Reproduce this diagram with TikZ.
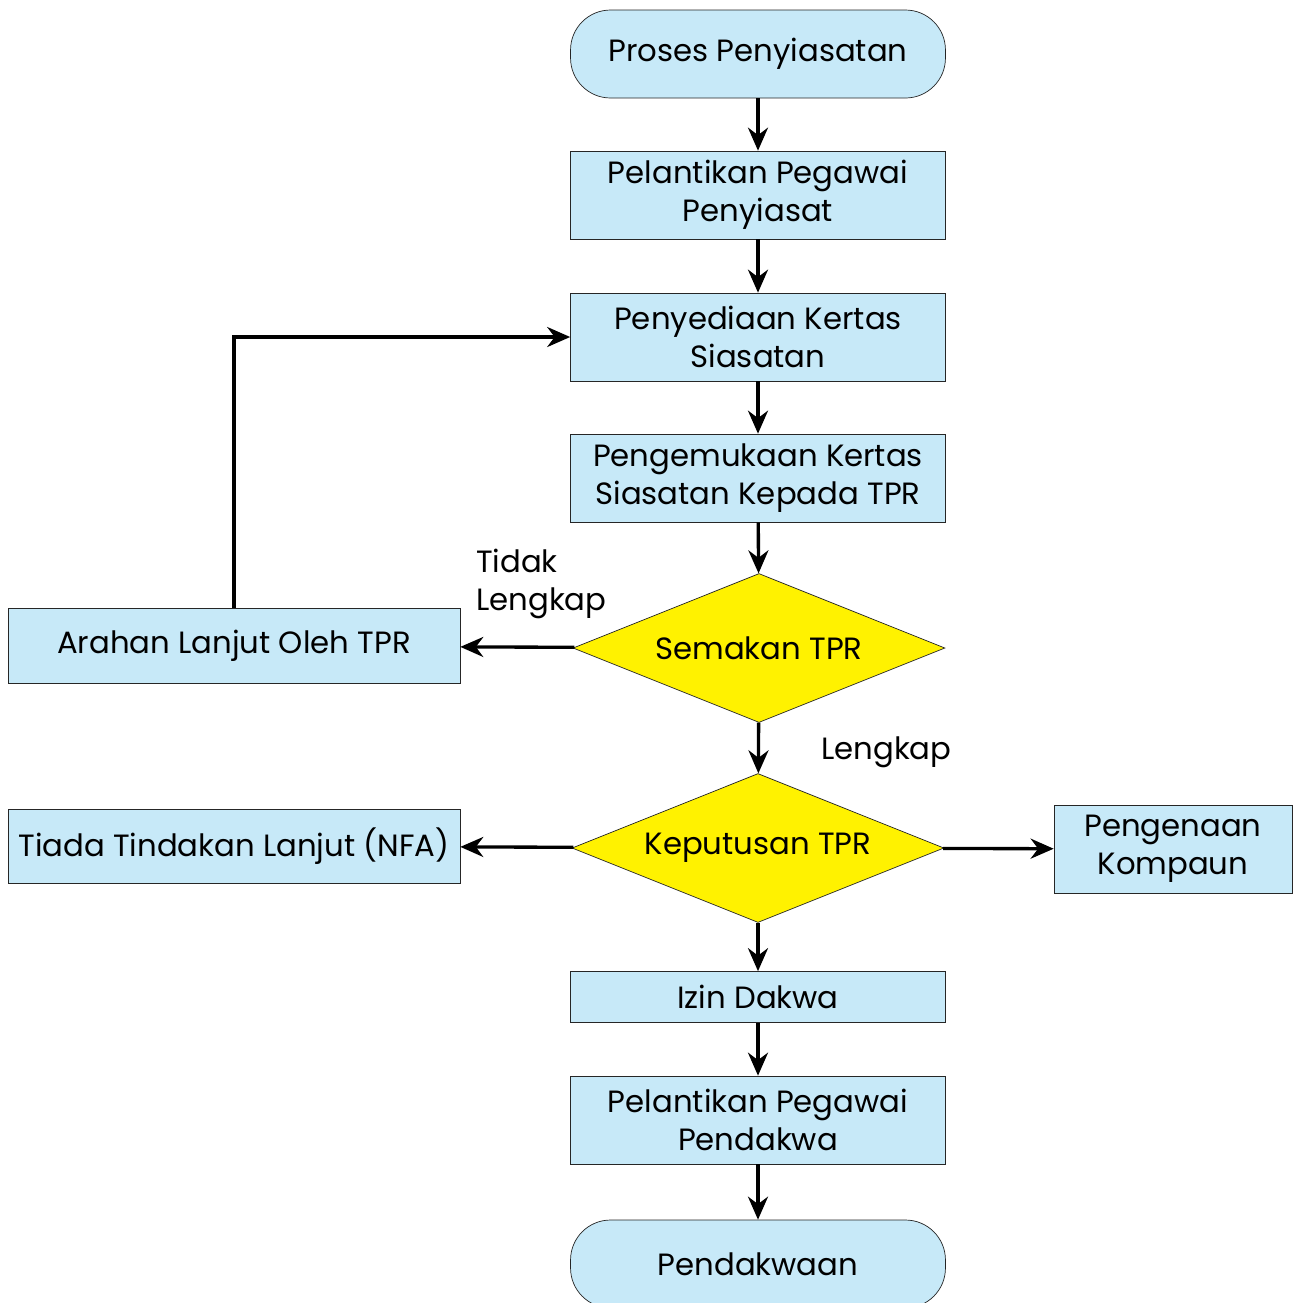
\documentclass[tikz,border=0pt]{standalone}
\usepackage{fontspec}
\setmainfont{Poppins}
\usetikzlibrary{shapes.geometric,arrows.meta,positioning}
\definecolor{boxblue}{RGB}{199,233,248}
\definecolor{decyellow}{RGB}{255,242,0}
\tikzset{
  procbox/.style={draw=black!85,thin,fill=boxblue,minimum width=7.5cm,minimum height=1.76cm,align=center,inner sep=1pt},
  termbox/.style={procbox,rounded corners=0.8cm},
  decbox/.style={diamond,draw=black!85,thin,fill=decyellow,minimum width=7.44cm,minimum height=2.98cm,inner sep=0pt,aspect=2.5},
  arr/.style={-{Stealth[length=0.46cm,width=0.4cm]},line width=1.9pt}
}
\begin{document}
\begin{tikzpicture}[x=0.02cm,y=-0.02cm,font=\fontsize{17.5}{21.8}\selectfont]
\useasboundingbox (0,0) rectangle (1293,1303);
\node[termbox] (mula) at (758,54) {Proses Penyiasatan};
\node[procbox] (lantik) at (758,195) {Pelantikan Pegawai\\Penyiasat};
\node[procbox] (sedia) at (758,337) {Penyediaan Kertas\\Siasatan};
\node[procbox] (kemuka) at (758,478) {Pengemukaan Kertas\\Siasatan Kepada TPR};
\node[decbox] (semak) at (759,648) {Semakan TPR};
\node[procbox,minimum width=9.04cm,minimum height=1.5cm] (arahan) at (234,646) {Arahan Lanjut Oleh TPR};
\node[decbox] (putus) at (758,848) {Keputusan TPR};
\node[procbox,minimum width=9.04cm,minimum height=1.48cm,inner sep=0pt] (nfa) at (234,846) {Tiada Tindakan Lanjut (NFA)};
\node[procbox,minimum width=4.76cm] (kompaun) at (1173,849) {Pengenaan\\Kompaun};
\node[procbox,minimum height=1.02cm] (izin) at (758,997) {Izin Dakwa};
\node[procbox] (lantik2) at (758,1120) {Pelantikan Pegawai\\Pendakwa};
\node[termbox] (dakwa) at (758,1264) {Pendakwaan};
% labels
\node[align=left,anchor=west] (tidak) at (470,584) {Tidak\\Lengkap};
\node[anchor=west] (lengkap) at (815,752) {Lengkap};
% connectors
\draw[arr] (mula) -- (lantik);
\draw[arr] (lantik) -- (sedia);
\draw[arr] (sedia) -- (kemuka);
\draw[arr] (kemuka) -- (semak);
\draw[arr] (semak) -- (arahan);
\draw[arr] (arahan.north) |- (sedia.west);
\draw[arr] (semak) -- (putus);
\draw[arr] (putus) -- (nfa);
\draw[arr] (putus) -- (kompaun);
\draw[arr] (putus) -- (izin);
\draw[arr] (izin) -- (lantik2);
\draw[arr] (lantik2) -- (dakwa);
\end{tikzpicture}
\end{document}
